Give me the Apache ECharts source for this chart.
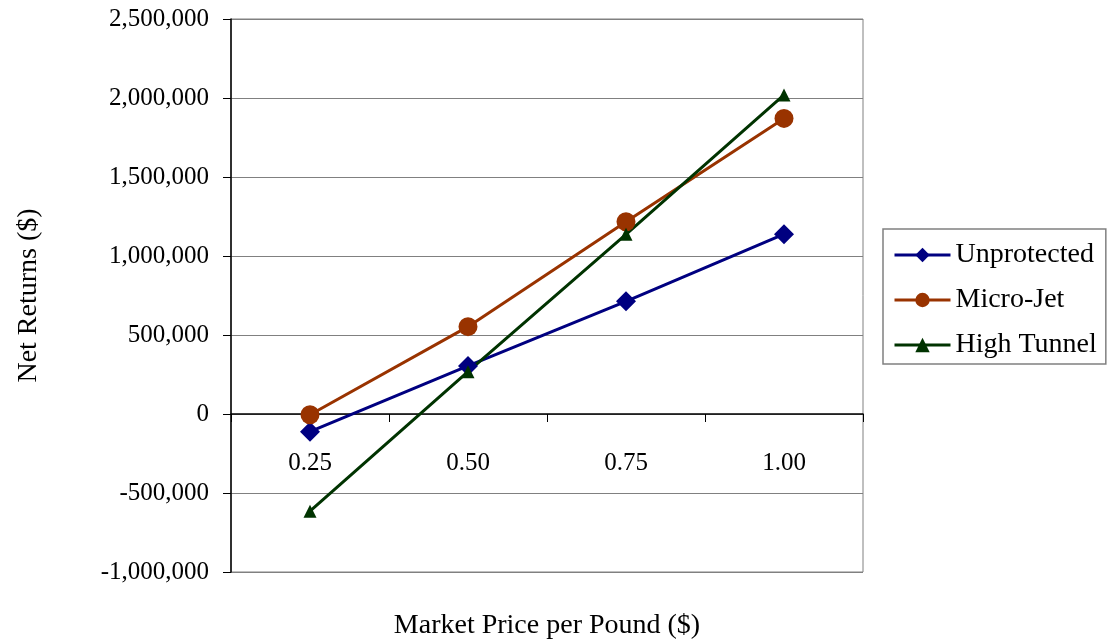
<!DOCTYPE html>
<html>
<head>
<meta charset="utf-8">
<script src="https://cdn.jsdelivr.net/npm/echarts@6/dist/echarts.min.js"></script>
<style>
  html, body { margin: 0; padding: 0; background: #fff; }
  #chart { width: 1112px; height: 643px; }
</style>
</head>
<body>
<div id="chart"></div>
<script>
// Market price per pound (category axis)
var prices = ['0.25', '0.50', '0.75', '1.00'];

// Net returns ($) for each production system
var unprotected = [-112000, 304000, 713000, 1138000];
var microJet = [-5000, 553000, 1217000, 1871000];
var highTunnel = [-615000, 268000, 1137000, 2019000];

var FONT = '"Liberation Serif", "Times New Roman", serif';

function withCommas(v) {
  var s = Math.abs(v).toString().replace(/\B(?=(\d{3})+(?!\d))/g, ',');
  return (v < 0 ? '-' : '') + s;
}

var chart = echarts.init(document.getElementById('chart'), null, { renderer: 'canvas' });

chart.setOption({
  animation: false,
  backgroundColor: '#ffffff',
  grid: {
    left: 231, right: 249, top: 19, bottom: 71,
    outerBoundsMode: 'none',
    containLabel: false,
    show: true, borderColor: '#808080', borderWidth: 1, backgroundColor: 'transparent'
  },
  legend: {
    orient: 'vertical',
    left: 883, top: 229,
    padding: [12, 9, 5, 10],
    itemWidth: 56, itemHeight: 18, itemGap: 17,
    borderColor: '#808080', borderWidth: 1.5,
    lineStyle: { width: 3 },
    textStyle: { fontFamily: FONT, fontSize: 28, color: '#000' },
    data: ['Unprotected', 'Micro-Jet', 'High Tunnel']
  },
  xAxis: {
    type: 'category',
    data: prices,
    boundaryGap: true,
    name: 'Market Price per Pound ($)',
    nameLocation: 'middle',
    nameGap: 40,
    nameTextStyle: { fontFamily: FONT, fontSize: 28, color: '#000' },
    axisLine: { onZero: true, lineStyle: { color: '#000', width: 1.5 } },
    axisTick: { show: true, inside: false, length: 8, lineStyle: { color: '#000' } },
    axisLabel: { margin: -121, fontFamily: FONT, fontSize: 25, color: '#000' },
    splitLine: { show: false }
  },
  yAxis: {
    type: 'value',
    min: -1000000, max: 2500000, interval: 500000,
    name: 'Net Returns ($)',
    nameLocation: 'middle',
    nameGap: 188,
    nameRotate: 90,
    nameTextStyle: { fontFamily: FONT, fontSize: 28, color: '#000' },
    axisLine: { show: true, lineStyle: { color: '#000', width: 1.5 } },
    axisTick: { show: true, inside: false, length: 8, lineStyle: { color: '#000' } },
    axisLabel: { margin: 22, fontFamily: FONT, fontSize: 25, color: '#000', formatter: withCommas },
    splitLine: { show: true, lineStyle: { color: '#808080', width: 1 } }
  },
  series: [
    {
      name: 'Unprotected', type: 'line', data: unprotected,
      symbol: 'diamond', symbolSize: 20,
      lineStyle: { color: '#000080', width: 3 },
      itemStyle: { color: '#000080' }
    },
    {
      name: 'Micro-Jet', type: 'line', data: microJet,
      symbol: 'circle', symbolSize: 19,
      lineStyle: { color: '#993300', width: 3 },
      itemStyle: { color: '#993300' }
    },
    {
      name: 'High Tunnel', type: 'line', data: highTunnel,
      symbol: 'triangle', symbolSize: 13,
      lineStyle: { color: '#003300', width: 3 },
      itemStyle: { color: '#003300' }
    }
  ]
});
</script>
</body>
</html>
